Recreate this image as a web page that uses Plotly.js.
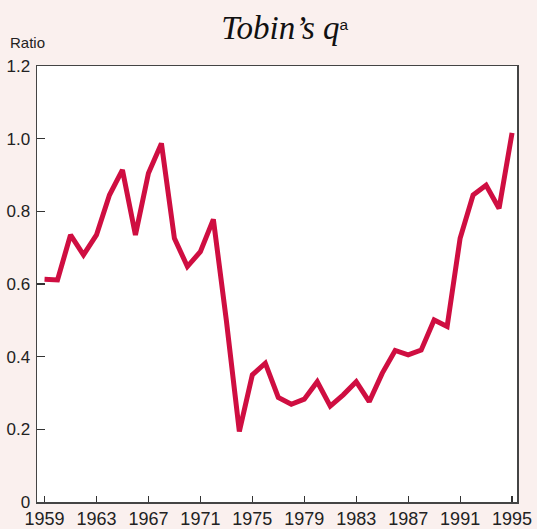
<!DOCTYPE html>
<html>
<head>
<meta charset="utf-8">
<script src="https://cdn.plot.ly/plotly-3.0.1.min.js"></script>
<style>html,body{margin:0;padding:0;background:#FAF0EE;}#chart{width:537px;height:529px;}</style>
</head>
<body>
<div id="chart"></div>
<script>
const years = [1959,1960,1961,1962,1963,1964,1965,1966,1967,1968,1969,1970,1971,1972,1973,1974,1975,1976,1977,1978,1979,1980,1981,1982,1983,1984,1985,1986,1987,1988,1989,1990,1991,1992,1993,1994,1995];
const tobinQ = [0.613,0.611,0.735,0.680,0.735,0.845,0.914,0.735,0.905,0.987,0.726,0.648,0.689,0.778,0.50,0.194,0.350,0.382,0.288,0.269,0.283,0.331,0.264,0.295,0.331,0.276,0.354,0.417,0.405,0.418,0.501,0.483,0.726,0.845,0.872,0.808,1.016];
const xTicks = [1959,1963,1967,1971,1975,1979,1983,1987,1991,1995];
const yTicks = [0,0.2,0.4,0.6,0.8,1.0,1.2];
const yTickText = ['0','0.2','0.4','0.6','0.8','1.0','1.2'];

const trace = {
  x: years, y: tobinQ, type: 'scatter', mode: 'lines',
  line: {color: '#CF0E41', width: 5},
  hoverinfo: 'skip'
};
const layout = {
  width: 537, height: 529,
  paper_bgcolor: '#FAF0EE', plot_bgcolor: '#FFFFFF',
  margin: {l: 37, r: 20, t: 66, b: 27},
  showlegend: false,
  font: {family: 'Liberation Sans, Arial, sans-serif', size: 14, color: '#222'},
  title: {
    text: "<i>Tobin’s q</i><span style='font-family:Liberation Sans;font-size:22px'><sup>a</sup></span>",
    font: {family: 'Liberation Serif, serif', size: 33, color: '#111'},
    x: 0.53, xanchor: 'center', y: 0.97, yanchor: 'top'
  },
  xaxis: {
    range: [1958.42, 1995.38], tickvals: xTicks, ticktext: xTicks.map(String),
    ticks: 'inside', ticklen: 6, tickwidth: 1.2, tickcolor: '#333',
    showline: true, linecolor: '#444', linewidth: 1.5, mirror: true,
    showgrid: false, zeroline: false, ticklabelstandoff: 0,
    tickfont: {size: 18, color: '#222'}
  },
  yaxis: {
    range: [0, 1.2], tickvals: yTicks, ticktext: yTickText,
    ticks: 'inside', ticklen: 8, tickwidth: 1.2, tickcolor: '#333',
    showline: true, linecolor: '#444', linewidth: 1.5, mirror: true,
    showgrid: false, zeroline: false, ticklabelstandoff: 2,
    tickfont: {size: 17, color: '#222'}
  },
  annotations: [{
    text: 'Ratio', xref: 'paper', yref: 'paper', x: -0.06, y: 1.03,
    xanchor: 'left', yanchor: 'bottom', showarrow: false,
    font: {size: 15, color: '#222'}
  }]
};
Plotly.newPlot('chart', [trace], layout, {displayModeBar: false, staticPlot: true});
</script>
</body>
</html>
